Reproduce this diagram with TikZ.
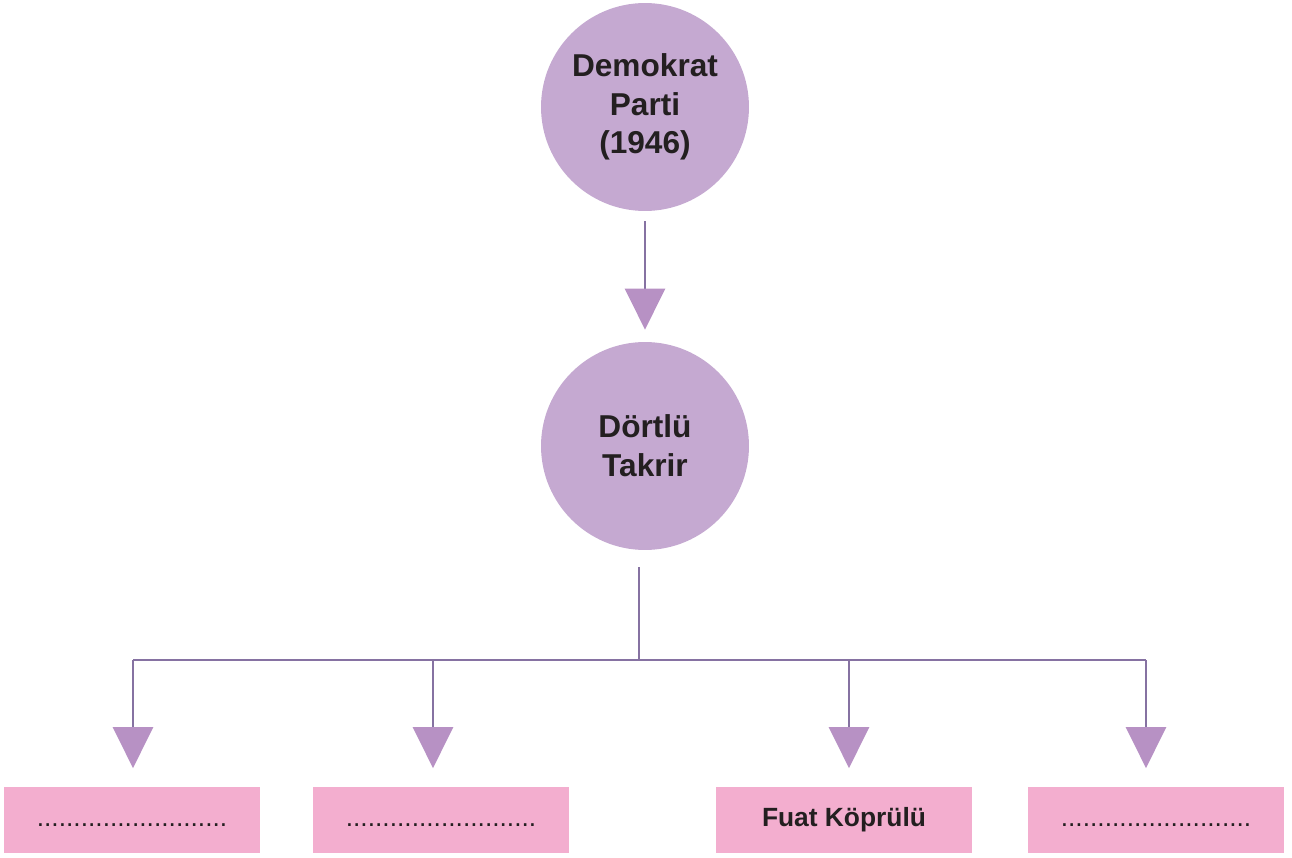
\documentclass[tikz,border=0pt]{standalone}
\usepackage{fontspec}
\setmainfont{Liberation Sans}
\usetikzlibrary{arrows.meta,positioning}
\definecolor{circfill}{HTML}{C5A9D1}
\definecolor{tipfill}{HTML}{B791C4}
\definecolor{linecol}{HTML}{8672A2}
\definecolor{boxfill}{HTML}{F3AECF}
\definecolor{textcol}{HTML}{231F20}
\newcommand{\blank}{\raisebox{-7pt}{..........................}}
\tikzset{
  topic/.style={circle,fill=circfill,minimum size=4.16cm,inner sep=0pt,align=center,
    text=textcol,font=\fontsize{18}{22}\selectfont\bfseries},
  leaf/.style={rectangle,fill=boxfill,minimum width=5.12cm,minimum height=1.34cm,
    inner sep=0pt,text=textcol,font=\fontsize{15}{18}\selectfont},
  conn/.style={draw=linecol,line width=1.4pt},
  pointer/.style={conn,-{Triangle[color=tipfill,width=0.8cm,length=0.82cm]}}
}
\begin{document}
\begin{tikzpicture}[x=0.02cm,y=-0.02cm]
\useasboundingbox (0,0) rectangle (1292,858);
% main circles
\node [topic] (dp) at (645,107) {Demokrat\\Parti\\(1946)};
\node [topic] (takrir) at (645,446) {Dörtlü\\Takrir};
\draw [pointer,shorten <=0.2cm,shorten >=0.24cm] (dp) -- (takrir);
% answer boxes
\node [leaf] (b1) at (132,820) {\blank};
\node [leaf] (b2) at (441,820) {\blank};
\node [leaf] (b3) at (844,820) {\bfseries Fuat Köprülü};
\node [leaf] (b4) at (1156,820) {\blank};
% tree
\coordinate (bar) at (639,660);
\coordinate (t1) at (133,660);
\coordinate (t2) at (433,660);
\coordinate (t3) at (849,660);
\coordinate (t4) at (1146,660);
\draw [conn,shorten <=0.34cm] (takrir.south -| bar) -- (bar);
\draw [conn] (t1) -- (t4);
\foreach \i in {1,2,3,4}
  \draw [pointer,shorten >=0.36cm] (t\i) -- (t\i |- b\i.north);
\end{tikzpicture}
\end{document}
